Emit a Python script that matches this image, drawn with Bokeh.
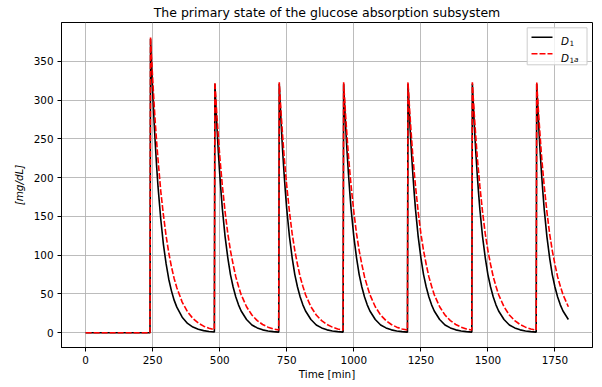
from bokeh.plotting import figure
from bokeh.models import Range1d, ColumnDataSource, Label, Arrow, FixedTicker
from bokeh.embed import file_html
from bokeh.resources import INLINE

# Meal times [min] and simulation end
meal_times = [240, 480, 720, 960, 1200, 1440, 1680]
t_end = 1800

# Minutes after each meal at which the state was sampled
offsets = [2, 5, 10, 15, 20, 25, 30, 40, 50, 60, 70, 80, 90, 100,
           120, 140, 160, 180, 200, 220, 240]

# D1 / D1a after the first (larger) meal [mg/dL]
d1_first = [379, 352, 310, 274, 242, 213, 188, 147, 114, 89, 69, 54, 42, 33,
            20, 12, 7.3, 4.4, 2.7, 1.6, 1.0]
d1a_first = [381, 360, 327, 297, 269, 245, 223, 183, 152, 125, 103, 85, 70, 58,
             39.5, 27, 18.4, 12.5, 8.5, 5.8, 4.0]

# D1 / D1a after each of the following meals [mg/dL]
d1_meal = [321, 298, 263, 232, 205, 181, 159, 124, 97, 75, 59, 46, 36, 28,
           17, 10, 6.2, 3.7, 2.3, 1.4, 0.8]
d1a_meal = [323, 305, 277, 252, 228, 208, 189, 156, 128, 106, 88, 72, 60, 49,
            33.5, 22.8, 15.6, 10.6, 7.2, 4.9, 3.4]

x_ticks = [0, 250, 500, 750, 1000, 1250, 1500, 1750]
y_ticks = [0, 50, 100, 150, 200, 250, 300, 350]


def build_series(first, rest):
    t, v = [0, meal_times[0]], [0, 0]
    for i, tm in enumerate(meal_times):
        prof = first if i == 0 else rest
        for off, val in zip(offsets, prof):
            if tm + off > t_end:
                break
            t.append(tm + off)
            v.append(val)
    return t, v


t1, y1 = build_series(d1_first, d1_meal)
t2, y2 = build_series(d1a_first, d1a_meal)
src1 = ColumnDataSource(dict(t=t1, y=y1))
src2 = ColumnDataSource(dict(t=t2, y=y2))

FONT = "DejaVu Sans"
W, H = 602, 387
LEFT, RIGHT, TOP, BOTTOM = 61, 10, 22, 40
FW, FH = W - LEFT - RIGHT, H - TOP - BOTTOM
X0, X1 = -90, 1890
Y0, Y1 = -19.05, 400.05

p = figure(width=W, height=H, output_backend="svg", toolbar_location=None,
           x_range=Range1d(X0, X1), y_range=Range1d(Y0, Y1),
           min_border_left=LEFT, min_border_right=RIGHT,
           min_border_top=TOP, min_border_bottom=BOTTOM,
           title="The primary state of the glucose absorption subsystem")

p.title.align = "center"
p.title.text_font = FONT
p.title.text_font_size = "12.5px"
p.title.text_font_style = "normal"
p.title.text_color = "black"
p.title.standoff = 5

p.background_fill_color = "white"
p.border_fill_color = "white"
p.outline_line_color = "black"
p.outline_line_width = 1

for ax in (p.xaxis[0], p.yaxis[0]):
    ax.axis_line_color = "black"
    ax.axis_line_width = 1
    ax.major_tick_line_color = "black"
    ax.major_tick_line_width = 1
    ax.major_tick_out = 4
    ax.major_tick_in = 0
    ax.minor_tick_line_color = None
    ax.major_label_text_font = FONT
    ax.major_label_text_font_size = "10.4px"
    ax.major_label_text_color = "black"
    ax.major_label_standoff = 4
    ax.axis_label_text_font = FONT
    ax.axis_label_text_font_size = "10.4px"
    ax.axis_label_text_color = "black"
p.xaxis.ticker = FixedTicker(ticks=x_ticks)
p.yaxis.ticker = FixedTicker(ticks=y_ticks)

p.xaxis.axis_label = "Time [min]"
p.xaxis.axis_label_text_font_style = "normal"
p.xaxis.axis_label_standoff = 1
p.yaxis.axis_label = "[mg/dL]"
p.yaxis.axis_label_text_font_style = "italic"
p.yaxis.axis_label_standoff = 6

for g in (p.xgrid[0], p.ygrid[0]):
    g.grid_line_color = "#b0b0b0"
    g.grid_line_width = 0.85

p.line("t", "y", source=src1, line_color="black", line_width=1.6)
p.line("t", "y", source=src2, line_color="#ff0000", line_width=1.6,
       line_dash="6 2")


# canvas pixel -> frame-relative screen units
def sx(x):
    return x - LEFT


def sy(y):
    return (H - BOTTOM) - y


# canvas pixel -> data units (for the legend frame)
def dx(x):
    return X0 + (x - LEFT) * (X1 - X0) / FW


def dy(y):
    return Y0 + (H - BOTTOM - y) * (Y1 - Y0) / FH


def text(x, y, s, size="10.4px", style="normal"):
    p.add_layout(Label(x=sx(x), y=sy(y), x_units="screen", y_units="screen",
                       text=s, text_font=FONT, text_font_size=size,
                       text_font_style=style, text_color="black",
                       text_align="left", text_baseline="alphabetic"))


# legend
p.quad(left=dx(526.7), right=dx(586.5), top=dy(27.3), bottom=dy(64.3),
       fill_color="white", fill_alpha=0.8, line_color="#cccccc", line_width=1)
p.add_layout(Arrow(x_start=sx(531), y_start=sy(36.7), x_end=sx(552),
                   y_end=sy(36.7), start_units="screen", end_units="screen",
                   end=None, line_color="black", line_width=1.6))
p.add_layout(Arrow(x_start=sx(531), y_start=sy(53.3), x_end=sx(552),
                   y_end=sy(53.3), start_units="screen", end_units="screen",
                   end=None, line_color="#ff0000", line_width=1.6,
                   line_dash="6 2"))
text(560.5, 40.7, "D", style="italic")
text(569, 42.7, "1", size="7.3px")
text(560.5, 57.3, "D", style="italic")
text(569, 59.3, "1", size="7.3px")
text(573.6, 59.3, "a", size="7.3px", style="italic")

open("out.html", "w").write(file_html(p, INLINE))
